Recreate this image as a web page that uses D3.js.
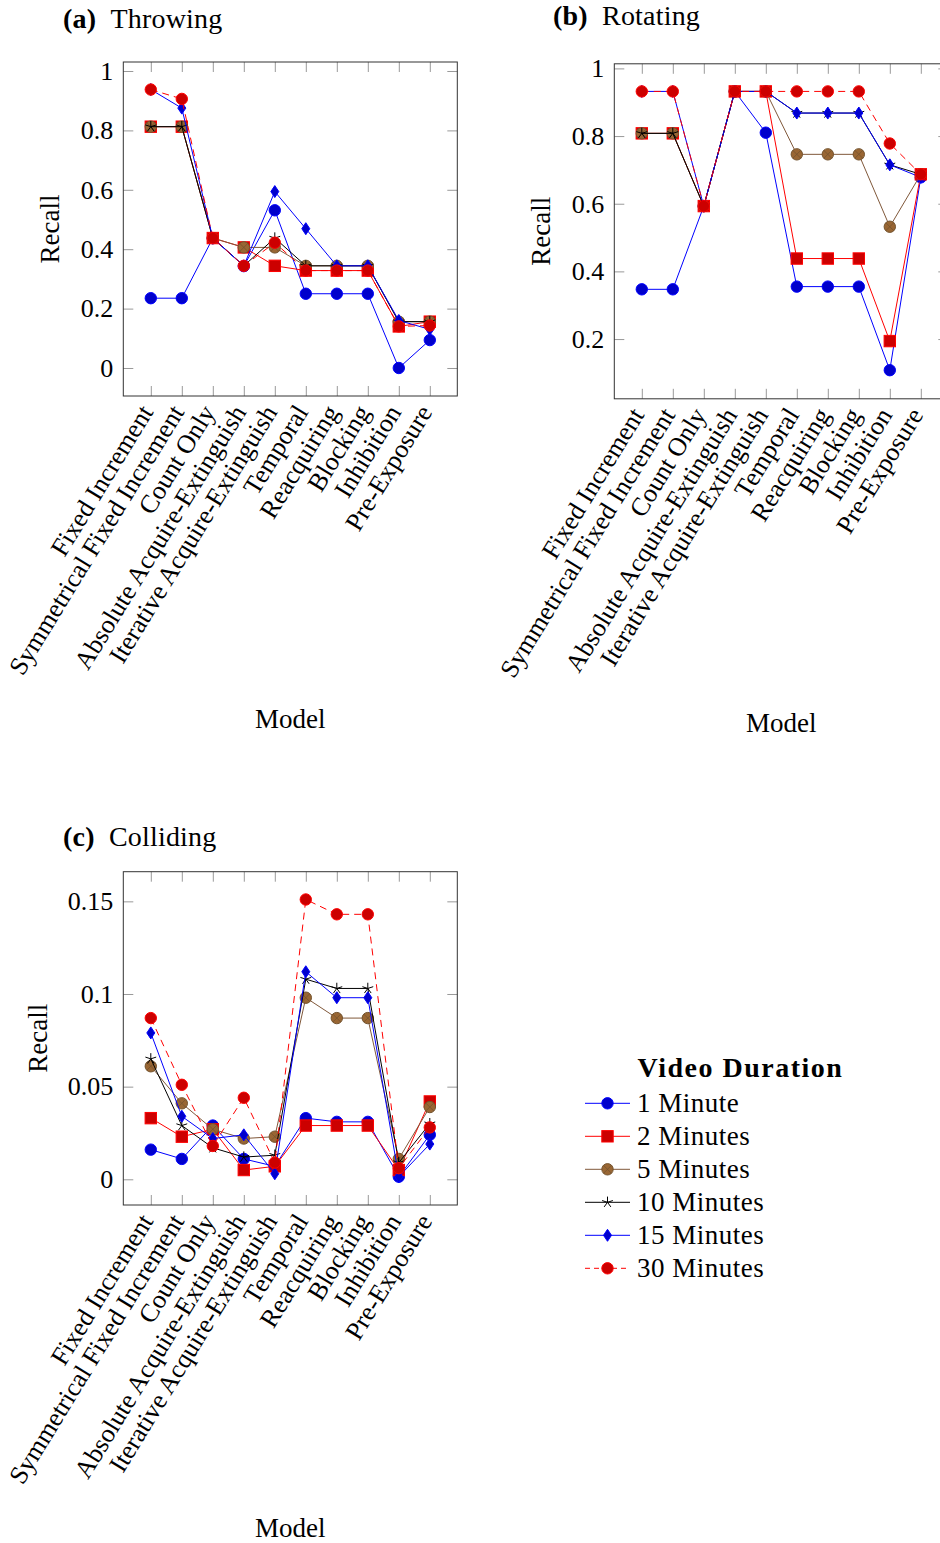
<!DOCTYPE html>
<html>
<head>
<meta charset="utf-8">
<script src="https://cdn.jsdelivr.net/npm/d3@7"></script>
<style>
body { margin: 0; background: #fff; }
text { font-family: "Liberation Serif", "DejaVu Serif", serif; fill: #000; }
</style>
</head>
<body>
<svg id="chart" width="940" height="1543"></svg>
<script>
// Categories and series
const models = ["Fixed Increment", "Symmetrical Fixed Increment", "Count Only",
    "Absolute Acquire-Extinguish", "Iterative Acquire-Extinguish", "Temporal",
    "Reacquiring", "Blocking", "Inhibition", "Pre-Exposure"];
const durations = ["1 Minute", "2 Minutes", "5 Minutes", "10 Minutes", "15 Minutes", "30 Minutes"];

// (a) Throwing
const throwing1 = [0.235, 0.235, 0.437, 0.343, 0.531, 0.25, 0.25, 0.25, 0, 0.094];
const throwing2 = [0.8125, 0.8125, 0.4375, 0.406, 0.344, 0.328, 0.328, 0.328, 0.14, 0.156];
const throwing5 = [0.8125, 0.8125, 0.4375, 0.406, 0.406, 0.344, 0.344, 0.344, 0.156, 0.156];
const throwing10 = [0.8125, 0.8125, 0.4375, 0.344, 0.4375, 0.344, 0.344, 0.344, 0.156, 0.156];
const throwing15 = [0.9375, 0.875, 0.4375, 0.344, 0.594, 0.469, 0.344, 0.344, 0.16, 0.13];
const throwing30 = [0.9375, 0.906, 0.4375, 0.344, 0.422, 0.328, 0.328, 0.328, 0.14, 0.143];

// (b) Rotating
const rotating1 = [0.347, 0.347, 0.593, 0.932, 0.81, 0.355, 0.355, 0.355, 0.108, 0.678];
const rotating2 = [0.808, 0.808, 0.593, 0.932, 0.932, 0.438, 0.438, 0.438, 0.194, 0.687];
const rotating5 = [0.808, 0.808, 0.593, 0.932, 0.932, 0.746, 0.746, 0.746, 0.532, 0.687];
const rotating10 = [0.808, 0.808, 0.593, 0.932, 0.932, 0.868, 0.868, 0.868, 0.715, 0.687];
const rotating15 = [0.932, 0.932, 0.593, 0.932, 0.932, 0.868, 0.868, 0.868, 0.715, 0.678];
const rotating30 = [0.932, 0.932, 0.593, 0.932, 0.932, 0.932, 0.932, 0.932, 0.778, 0.687];

// (c) Colliding
const colliding1 = [0.016, 0.011, 0.029, 0.011, 0.007, 0.033, 0.031, 0.031, 0.0014, 0.024];
const colliding2 = [0.033, 0.023, 0.027, 0.005, 0.007, 0.029, 0.029, 0.029, 0.005, 0.042];
const colliding5 = [0.061, 0.041, 0.027, 0.022, 0.023, 0.098, 0.087, 0.087, 0.011, 0.039];
const colliding10 = [0.065, 0.029, 0.017, 0.012, 0.013, 0.108, 0.103, 0.103, 0.009, 0.03];
const colliding15 = [0.079, 0.034, 0.022, 0.024, 0.003, 0.112, 0.098, 0.098, 0.0014, 0.019];
const colliding30 = [0.087, 0.051, 0.018, 0.044, 0.009, 0.151, 0.143, 0.143, 0.006, 0.028];

// Tick values
const ticksAB = [0, 0.2, 0.4, 0.6, 0.8, 1];
const ticksAB2 = [0.2, 0.4, 0.6, 0.8, 1];
const ticksC = [0, 0.05, 0.1, 0.15];

const styles = [
    { line: "#0000ff", fill: "#0000cc", stroke: "#0000ff", mark: "circle" },
    { line: "#ff0000", fill: "#cc0000", stroke: "#ff0000", mark: "square" },
    { line: "#80583a", fill: "#996633", stroke: "#73532e", mark: "otimes" },
    { line: "#000000", fill: "#000000", stroke: "#000000", mark: "star" },
    { line: "#0000ff", fill: "#0000cc", stroke: "#0000ff", mark: "diamond" },
    { line: "#ff0000", fill: "#cc0000", stroke: "#ff0000", mark: "circle", dash: "7,5" }
];

const panels = [
    { label: "(a)", name: "Throwing", tx: 63, ty: 28, left: 123.3, top: 62, width: 334, height: 334,
      yDomain: [-0.0943, 1.0303], yTicks: ticksAB, yLabelX: 50, modelY: 728,
      series: [throwing1, throwing2, throwing5, throwing10, throwing15, throwing30] },
    { label: "(b)", name: "Rotating", tx: 553, ty: 25, left: 614.3, top: 63.8, width: 334, height: 335,
      yDomain: [0.0234, 1.0136], yTicks: ticksAB2, yLabelX: 541, modelY: 732,
      series: [rotating1, rotating2, rotating5, rotating10, rotating15, rotating30] },
    { label: "(c)", name: "Colliding", tx: 63, ty: 846, left: 123.3, top: 871.7, width: 334, height: 333.3,
      yDomain: [-0.01387, 0.166], yTicks: ticksC, yLabelX: 38, modelY: 1537,
      series: [colliding1, colliding2, colliding5, colliding10, colliding15, colliding30] }
];

const svg = d3.select("#chart");
const fontSize = 26;
const bigFont = 27;

function drawMarker(g, type, cx, cy, st) {
    const r = 5.7;
    if (type === "circle") {
        g.append("circle").attr("cx", cx).attr("cy", cy).attr("r", r)
            .attr("fill", st.fill).attr("stroke", st.stroke).attr("stroke-width", 1);
    } else if (type === "square") {
        g.append("rect").attr("x", cx - r).attr("y", cy - r).attr("width", 2 * r).attr("height", 2 * r)
            .attr("fill", st.fill).attr("stroke", st.stroke).attr("stroke-width", 1);
    } else if (type === "otimes") {
        g.append("circle").attr("cx", cx).attr("cy", cy).attr("r", r)
            .attr("fill", st.fill).attr("stroke", st.stroke).attr("stroke-width", 1);
        const k = r * 0.707;
        g.append("path").attr("d", `M${cx - k},${cy - k}L${cx + k},${cy + k}M${cx - k},${cy + k}L${cx + k},${cy - k}`)
            .attr("stroke", st.stroke).attr("stroke-width", 0.8);
    } else if (type === "star") {
        let d = "";
        for (let i = 0; i < 5; i++) {
            const a = -Math.PI / 2 + i * 2 * Math.PI / 5;
            d += `M${cx},${cy}L${cx + r * Math.cos(a)},${cy + r * Math.sin(a)}`;
        }
        g.append("path").attr("d", d).attr("stroke", st.stroke).attr("stroke-width", 1).attr("fill", "none");
    } else if (type === "diamond") {
        const w = 4, h = 6;
        g.append("path").attr("d", `M${cx},${cy - h}L${cx + w},${cy}L${cx},${cy + h}L${cx - w},${cy}Z`)
            .attr("fill", st.fill).attr("stroke", st.stroke).attr("stroke-width", 1);
    }
}

panels.forEach(p => {
    const g = svg.append("g");
    const x = d3.scalePoint().domain(models).range([p.left, p.left + p.width]).padding(0.887);
    const y = d3.scaleLinear().domain(p.yDomain).range([p.top + p.height, p.top]);
    const bottom = p.top + p.height, right = p.left + p.width;
    const fmt = d => String(+d.toFixed(2));

    // ticks (inside, grey)
    const tickStyle = sel => {
        sel.attr("font-family", null);
        sel.select(".domain").remove();
        sel.selectAll(".tick line").attr("stroke", "#999").attr("stroke-width", 1);
        sel.selectAll("text").style("font-size", fontSize + "px").attr("fill", "#000");
    };
    g.append("g").attr("transform", `translate(${p.left},0)`)
        .call(d3.axisLeft(y).tickValues(p.yTicks).tickSizeInner(-10).tickSizeOuter(0).tickPadding(10).tickFormat(fmt))
        .call(tickStyle);
    g.append("g").attr("transform", `translate(${right},0)`)
        .call(d3.axisRight(y).tickValues(p.yTicks).tickSizeInner(-10).tickSizeOuter(0).tickFormat(""))
        .call(tickStyle);
    g.append("g").attr("transform", `translate(0,${p.top})`)
        .call(d3.axisTop(x).tickSizeInner(-10).tickSizeOuter(0).tickFormat(""))
        .call(tickStyle);
    const xAxis = g.append("g").attr("transform", `translate(0,${bottom})`)
        .call(d3.axisBottom(x).tickSizeInner(-10).tickSizeOuter(0))
        .call(tickStyle);
    xAxis.selectAll(".tick text")
        .attr("x", 0).attr("y", 0).attr("dy", "0.3em")
        .attr("text-anchor", "end")
        .attr("transform", "translate(-4,12) rotate(-58.5)");

    // frame
    g.append("rect").attr("x", p.left).attr("y", p.top).attr("width", p.width).attr("height", p.height)
        .attr("fill", "none").attr("stroke", "#333").attr("stroke-width", 1);

    // series
    p.series.forEach((vals, si) => {
        const st = styles[si];
        const line = d3.line().x((d, i) => x(models[i])).y(d => y(d));
        g.append("path").datum(vals).attr("d", line)
            .attr("fill", "none").attr("stroke", st.line).attr("stroke-width", 1)
            .attr("stroke-dasharray", st.dash || null);
        vals.forEach((v, i) => drawMarker(g, st.mark, x(models[i]), y(v), st));
    });

    // labels
    const t = g.append("text").attr("x", p.tx).attr("y", p.ty)
        .style("font-size", (bigFont + 1) + "px").style("letter-spacing", "0.2px");
    t.append("tspan").attr("font-weight", "bold").text(p.label);
    t.append("tspan").text("\u2002" + p.name);

    g.append("text").attr("transform", `translate(${p.yLabelX},${p.top + p.height / 2}) rotate(-90)`)
        .attr("text-anchor", "middle").attr("dy", "0.35em").style("font-size", bigFont + "px").text("Recall");
    g.append("text").attr("x", p.left + p.width / 2).attr("y", p.modelY)
        .attr("text-anchor", "middle").style("font-size", bigFont + "px").text("Model");
});

// legend
const lg = svg.append("g");
lg.append("text").attr("x", 740.5).attr("y", 1077).attr("text-anchor", "middle")
    .attr("font-weight", "bold").style("font-size", "28px").style("letter-spacing", "1.5px")
    .text("Video Duration");
durations.forEach((name, i) => {
    const st = styles[i];
    const yy = 1103.3 + i * 33;
    lg.append("line").attr("x1", 585).attr("x2", 630).attr("y1", yy).attr("y2", yy)
        .attr("stroke", st.line).attr("stroke-width", 1).attr("stroke-dasharray", st.dash ? "5,4" : null);
    drawMarker(lg, st.mark, 607.5, yy, st);
    lg.append("text").attr("x", 637).attr("y", yy).attr("dy", "0.33em")
        .style("font-size", bigFont + "px").style("letter-spacing", "0.5px").text(name);
});
</script>
</body>
</html>
